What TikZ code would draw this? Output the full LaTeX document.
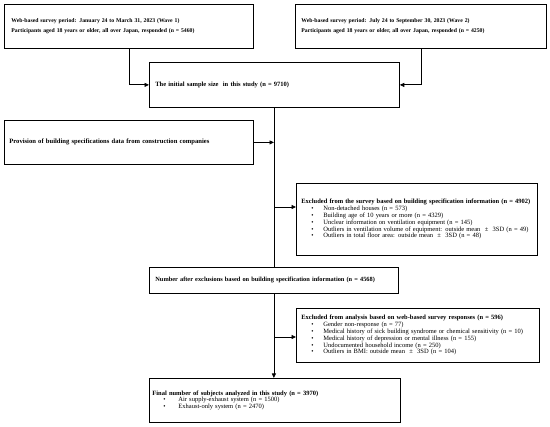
\documentclass[tikz,border=0pt]{standalone}
\usepackage{fontspec}
\setmainfont{Liberation Serif}
\usetikzlibrary{arrows.meta,calc}
\newcommand{\bul}[2]{\makebox[#1][l]{\hspace{#2}\textbullet}}
\begin{document}
\begin{tikzpicture}[x=1pt,y=-1pt,
  box/.style={draw, line width=0.8pt, anchor=north west, inner ysep=0pt, align=left,
    font=\fontsize{6.5}{10}\selectfont},
  topbox/.style={box, font=\fontsize{5.75}{10}\selectfont},
  listbox/.style={box, font=\fontsize{6.5}{6.8}\selectfont},
  arr/.style={line width=0.8pt, -{Triangle[length=4.5pt,width=4pt]}},
  ln/.style={line width=0.8pt}]
\useasboundingbox (0,0) rectangle (550,427);

\node[topbox, minimum width=249pt, minimum height=44pt, text width=235pt, inner xsep=7pt] (w1) at (4,4)
  {\textbf{Web-based survey period: January 24 to March 31, 2023 (Wave 1)}\\
   \textbf{Participants aged 18 years or older, all over Japan, responded (n = 5460)}};
\node[topbox, minimum width=251pt, minimum height=44pt, text width=239pt, inner xsep=6pt] (w2) at (295,4)
  {\textbf{Web-based survey period: July 24 to September 30, 2023 (Wave 2)}\\
   \textbf{Participants aged 18 years or older, all over Japan, responded (n = 4250)}};
\node[box, minimum width=250pt, minimum height=45pt, text width=238pt, inner xsep=6pt] (init) at (149,62)
  {\textbf{The initial sample size\ \ in this study (n = 9710)}};
\node[box, minimum width=249pt, minimum height=44pt, text width=239pt, inner xsep=5pt,
  font=\fontsize{6.6}{10}\selectfont] (prov) at (4,120)
  {\textbf{Provision of building specifications data from construction companies}};
\node[listbox, minimum width=241pt, minimum height=72pt, text width=231pt, inner xsep=5pt] (ex1) at (296,183)
  {\textbf{Excluded from the survey based on building specification information (n = 4902)}\\
   \bul{22pt}{10pt}Non-detached houses (n = 573)\\
   \bul{22pt}{10pt}Building age of 10 years or more (n = 4329)\\
   \bul{22pt}{10pt}Unclear information on ventilation equipment (n = 145)\\
   \bul{22pt}{10pt}Outliers in ventilation volume of equipment: outside mean\ \ ±\ \ 3SD (n = 49)\\
   \bul{22pt}{10pt}Outliers in total floor area: outside mean\ \ ±\ \ 3SD (n = 48)};
\node[box, minimum width=249pt, minimum height=26pt, text width=237pt, inner xsep=6pt,
  font=\fontsize{6.35}{10}\selectfont] (num) at (149,267)
  {\textbf{Number after exclusions based on building specification information (n = 4568)}};
\node[listbox, minimum width=243pt, minimum height=54pt, text width=233pt, inner xsep=5pt] (ex2) at (296,308)
  {\textbf{Excluded from analysis based on web-based survey responses (n = 596)}\\
   \bul{22pt}{10pt}Gender non-response (n = 77)\\
   \bul{22pt}{10pt}Medical history of sick building syndrome or chemical sensitivity (n = 10)\\
   \bul{22pt}{10pt}Medical history of depression or mental illness (n = 155)\\
   \bul{22pt}{10pt}Undocumented household income (n = 250)\\
   \bul{22pt}{10pt}Outliers in BMI: outside mean\ \ ±\ \ 3SD (n = 104)};
\node[listbox, minimum width=251pt, minimum height=44pt, text width=245pt, inner xsep=3pt] (fin) at (149,378)
  {\textbf{Final number of subjects analyzed in this study (n = 3970)}\\
   \bul{26pt}{11pt}Air supply-exhaust system (n = 1500)\\
   \bul{26pt}{11pt}Exhaust-only system (n = 2470)};

\draw[arr] (w1.south) |- (init.west);
\draw[arr] (w2.south) |- (init.east);
\draw[ln] (init.south) -- (init.south |- num.north);
\draw[arr] (prov.east) -- ($(init.south |- prov.east)+(-0.4,0)$);
\coordinate (j1) at (init.south |- 0,207);
\draw[arr] (j1) -- (j1 -| ex1.west);
\draw[arr] (num.south) -- (num.south |- fin.north);
\coordinate (j2) at (num.south |- 0,337);
\draw[arr] (j2) -- (j2 -| ex2.west);
\end{tikzpicture}
\end{document}
